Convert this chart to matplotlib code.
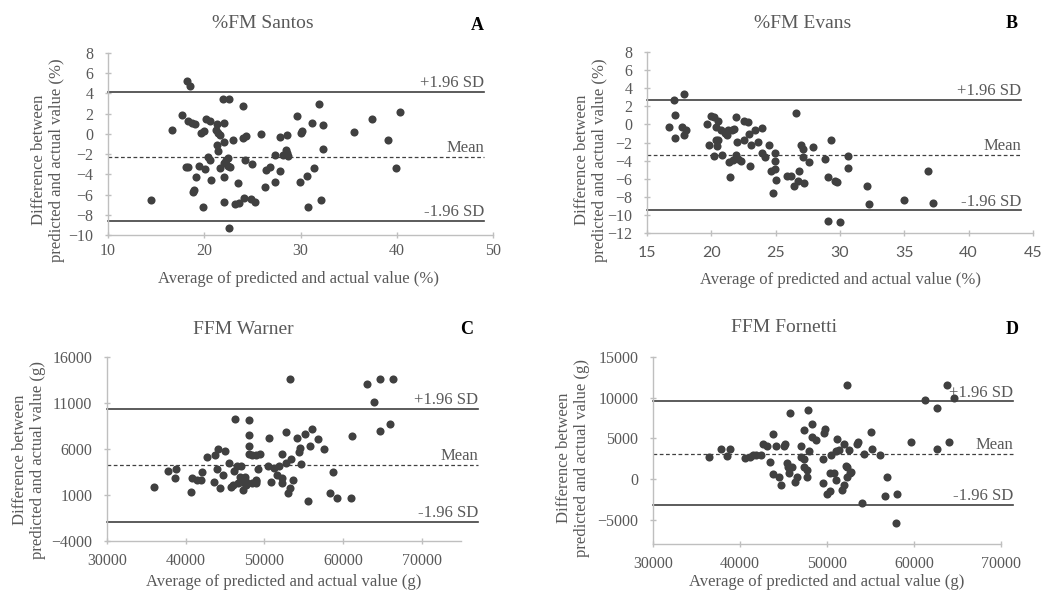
import matplotlib.pyplot as plt

W, H = 1043, 592
plt.rcParams['font.family'] = ['Liberation Serif', 'DejaVu Serif']

# ---- data ----
# A: %FM Santos
a_x = [14.5, 16.7, 17.7, 18.2, 18.5, 18.3, 18.75, 19.0, 18.1, 18.3, 19.1, 18.8, 18.9,
       19.7, 20.0, 19.5, 20.1, 19.9, 20.2, 20.55, 20.4, 20.6, 20.7, 21.2, 21.4, 21.6,
       21.35, 22.0, 21.35, 21.4, 22.0, 21.9, 22.6, 21.6, 22.0, 22.3, 22.5, 22.7, 22.45,
       22.1, 22.0, 22.6, 23.0, 23.5, 23.2, 23.6, 24.05, 24.05, 24.36, 24.2, 24.1, 25.0,
       24.85, 25.3, 25.9, 26.3, 26.4, 26.85, 27.3, 27.3, 27.9, 27.9, 28.2, 28.6, 28.5,
       28.6, 28.7, 29.6, 29.9, 30.1, 30.2, 30.7, 30.76, 31.2, 31.4, 31.9, 32.1, 32.35,
       32.3, 35.6, 37.4, 39.1, 39.9, 40.3]
a_y = [-6.55, 0.34, 1.83, 5.23, 4.7, 1.23, 1.07, 0.95, -3.25, -3.3, -4.3, -5.7, -5.5,
       0.08, 0.24, -3.15, -3.45, -7.2, 1.5, 1.23, -2.3, -2.56, -4.57, 0.4, 0.08, -0.1,
       0.97, 1.07, -1.1, -1.67, -0.85, 3.45, 3.45, -3.4, -2.9, -2.56, -3.2, -3.3, -2.4,
       -4.25, -6.75, -9.33, -0.58, -4.87, -6.95, -6.85, 2.79, -0.42, -0.25, -2.63, -6.36,
       -3.0, -6.45, -6.7, 0.0, -5.3, -3.6, -3.25, -4.8, -2.13, -0.35, -3.65, -2.13, -0.12,
       -1.57, -1.9, -2.23, 1.8, -4.77, 0.08, 0.3, -4.2, -7.2, 1.04, -3.4, 2.98, -6.55,
       0.84, -1.5, 0.18, 1.47, -0.65, -3.4, 2.13]
a_lines = [4.15, -2.25, -8.6]

# B: %FM Evans
b_x = [16.7, 17.1, 17.15, 17.15, 17.9, 17.7, 17.9, 18.05, 19.7, 20.0, 20.2, 20.5, 20.4,
       19.8, 20.2, 20.4, 20.5, 20.45, 20.8, 20.75, 21.1, 21.3, 21.2, 21.6, 21.75, 21.4,
       21.45, 21.7, 21.9, 22.0, 21.95, 22.1, 22.3, 22.5, 22.5, 22.85, 22.9, 23.1, 23.0,
       23.4, 23.6, 23.9, 23.95, 24.2, 24.5, 24.6, 24.8, 24.95, 24.95, 24.95, 25.05, 25.9,
       26.2, 26.4, 26.55, 26.8, 26.7, 27.0, 27.1, 27.1, 27.2, 27.6, 27.9, 28.8, 29.3,
       29.1, 29.05, 29.6, 29.8, 30.0, 30.6, 30.65, 32.1, 32.25, 34.95, 36.85, 37.2]
b_y = [-0.27, 2.69, 1.03, -1.45, 3.39, -0.27, -1.2, -0.63, 0.0, 0.93, 0.77, 0.36, -0.27,
       -2.3, -3.5, -1.75, -1.7, -2.4, -3.35, -0.6, -1.0, -0.6, -1.2, -0.6, -0.5, -4.1,
       -5.8, -3.9, 0.85, -1.9, -3.4, -3.8, -4.0, -1.75, 0.4, 0.3, -1.1, -2.3, -4.6,
       -0.6, -1.9, -0.45, -3.2, -3.6, -2.3, -5.2, -7.6, -3.2, -4.0, -4.9, -6.1, -5.7,
       -5.7, -6.8, 1.26, -5.2, -6.2, -2.3, -2.7, -3.6, -6.5, -4.1, -2.5, -3.85, -1.75,
       -5.8, -10.7, -6.2, -6.4, -10.75, -3.5, -4.8, -6.8, -8.8, -8.4, -5.2, -8.7]
b_lines = [2.69, -3.36, -9.5]

# C: FFM Warner
c_x = [36000, 37700, 38800, 38700, 40700, 40800, 41400, 41900, 42100, 42700, 43700,
       44100, 44000, 43600, 44400, 44700, 45000, 45500, 45700, 46000, 46200, 46300,
       46500, 46700, 46900, 47000, 47200, 47300, 47500, 47600, 47700, 47800, 48100,
       48100, 48100, 48000, 48400, 48900, 49400, 48400, 48900, 49000, 49200, 49000,
       50600, 50500, 50900, 51200, 51600, 51900, 52200, 52200, 52300, 52700, 52800,
       53000, 53200, 53300, 53600, 53400, 54200, 54400, 54500, 54700, 55200, 55600,
       55800, 56100, 56800, 57600, 58700, 58300, 59300, 61000, 61100, 63000, 63900,
       64700, 64700, 66000, 66400]
c_y = [1900, 3600, 3800, 2900, 1300, 2800, 2600, 2600, 3500, 5100, 5300, 6000, 3800,
       2400, 1800, 3200, 5800, 4500, 1900, 2100, 3600, 9300, 4100, 2300, 3000, 4100,
       2400, 1500, 3000, 2600, 2100, 2300, 9100, 7500, 6300, 5500, 5300, 5300, 5500,
       2300, 2600, 2300, 3800, 2500, 7200, 4100, 2400, 3900, 3200, 4200, 5500, 2800,
       2300, 7900, 4500, 1200, 13600, 1800, 2600, 4900, 7200, 5700, 6100, 4400, 7600,
       300, 6300, 8200, 7100, 6000, 3500, 1200, 700, 700, 7400, 13100, 11100, 13600,
       8000, 8700, 13600]
c_lines = [10400, 4300, -1900]

# D: FFM Fornetti
d_x = [36400, 37800, 38800, 38500, 40600, 41200, 41500, 41800, 42700, 43100, 42400,
       43500, 43800, 44100, 43800, 44500, 45000, 45200, 44700, 45400, 45500, 45600,
       45700, 46000, 46300, 46600, 47000, 47000, 47400, 47400, 47400, 47700, 47700,
       47900, 47800, 48300, 48300, 48700, 49500, 49500, 49700, 49800, 50000, 50300,
       50300, 50800, 51000, 50500, 51100, 51000, 51400, 51700, 51900, 52000, 52200,
       52300, 52300, 52500, 52700, 52800, 52300, 53500, 53600, 54000, 54300, 55000,
       55200, 56100, 56700, 56900, 57900, 58100, 59700, 61300, 62600, 62700, 63800,
       64000, 64600]
d_y = [2700, 3700, 3700, 2800, 2600, 2700, 2900, 3000, 4300, 4100, 2900, 2100, 5500,
       4000, 600, 200, 4100, 4300, -700, 2000, 1500, 700, 8100, 1500, -400, 200, 4100,
       2700, 2500, 6000, 1500, 1100, 200, 3500, 8500, 6700, 5100, 4800, -500, 2500,
       5600, 6200, -1800, -1500, 700, 700, -100, 2900, 4900, 3500, 3600, -1300, 4300,
       -700, 1600, 11500, 1500, 3600, 700, 900, 200, 4300, 4500, -2900, 3100, 5800,
       3700, 3000, -2100, 200, -5400, -1800, 4600, 9700, 3700, 8700, 11600, 4600, 9900]
d_lines = [9550, 3100, -3200]

line_labels = ['+1.96 SD', 'Mean', '-1.96 SD']

DARK = '#404040'
GREY = '#595959'
SPINE = '#bfbfbf'

fig = plt.figure(figsize=(W / 100, H / 100), dpi=100)


def px_axes(left, right, top, bottom):
    return fig.add_axes([left / W, 1 - bottom / H, (right - left) / W, (bottom - top) / H])


def panel(ax, x, y, lines, xlim, ylim, xticks, yticks, line_end, xfont='Liberation Serif'):
    ax.scatter(x, y, s=34, color=DARK, linewidths=0, zorder=3, clip_on=False)
    styles = ['-', (0, (3, 2)), '-']
    widths = [1.2, 0.9, 1.2]
    for val, ls, lw, lab in zip(lines, styles, widths, line_labels):
        ax.plot([xlim[0], line_end], [val, val], color=DARK, ls=ls, lw=lw, clip_on=False, zorder=2)
        ax.annotate(lab, (line_end, val), xytext=(0, 0.5), textcoords='offset points',
                    ha='right', va='bottom', fontsize=12, color=GREY, annotation_clip=False)
    ax.set_xlim(*xlim)
    ax.set_ylim(*ylim)
    ax.set_xticks(xticks)
    ax.set_yticks(yticks)
    for s in ['top', 'right']:
        ax.spines[s].set_visible(False)
    for s in ['left', 'bottom']:
        ax.spines[s].set_color(SPINE)
        ax.spines[s].set_linewidth(1.0)
    ax.tick_params(direction='inout', length=5, width=1.0, color=SPINE,
                   labelsize=11.5, labelcolor=GREY)
    ax.tick_params(axis='x', pad=3)
    ax.tick_params(axis='y', pad=8)
    for t in ax.get_xticklabels():
        t.set_family(xfont)
    ax.set_facecolor('none')


ylab_pct = 'Difference between\npredicted and actual value (%)'
ylab_g = 'Difference between\npredicted and actual value (g)'
xlab_pct = 'Average of predicted and actual value (%)'
xlab_g = 'Average of predicted and actual value (g)'

axA = px_axes(108, 493, 53, 235)
panel(axA, a_x, a_y, a_lines, (10, 50), (-10, 8), range(10, 51, 10), range(-10, 9, 2), 49.05)

axB = px_axes(647, 1033, 52, 233)
panel(axB, b_x, b_y, b_lines, (15, 45), (-12, 8), range(15, 46, 5), range(-12, 9, 2),
      44.1, xfont='Lato')
axB.tick_params(axis='x', pad=7)

axC = px_axes(107, 461, 357, 541)
panel(axC, c_x, c_y, c_lines, (30000, 75000), (-4000, 16000), range(30000, 70001, 10000),
      range(-4000, 16001, 5000), 77150)
axC.tick_params(axis='x', pad=6)

axD = px_axes(653, 1001, 357, 544)
panel(axD, d_x, d_y, d_lines, (30000, 70000), (-8000, 15000), range(30000, 70001, 10000),
      range(-5000, 15001, 5000), 71400)
axD.tick_params(axis='x', pad=6)

# titles, panel letters, axis labels
for txt, x, y in [('%FM Santos', 263, 23), ('%FM Evans', 803, 23),
                  ('FFM Warner', 243, 329), ('FFM Fornetti', 784, 328)]:
    fig.text(x / W, 1 - y / H, txt, ha='center', va='center', fontsize=14, color=GREY)
for txt, x, y in [('A', 477, 25), ('B', 1012, 24), ('C', 467, 330), ('D', 1012, 330)]:
    fig.text(x / W, 1 - y / H, txt, ha='center', va='center', fontsize=13,
             fontweight='bold', color='black')
for txt, x, y in [(xlab_pct, 298, 279), (xlab_pct, 840, 280),
                  (xlab_g, 284, 582), (xlab_g, 827, 582)]:
    fig.text(x / W, 1 - y / H, txt, ha='center', va='center', fontsize=12, color=GREY)
for txt, x, y in [(ylab_pct, 48, 160), (ylab_pct, 591, 160),
                  (ylab_g, 29, 460), (ylab_g, 573, 458)]:
    fig.text(x / W, 1 - y / H, txt, ha='center', va='center', rotation=90,
             fontsize=12, color=GREY, multialignment='center', linespacing=1.1)

fig.savefig('out.png', dpi=100, facecolor='white')
